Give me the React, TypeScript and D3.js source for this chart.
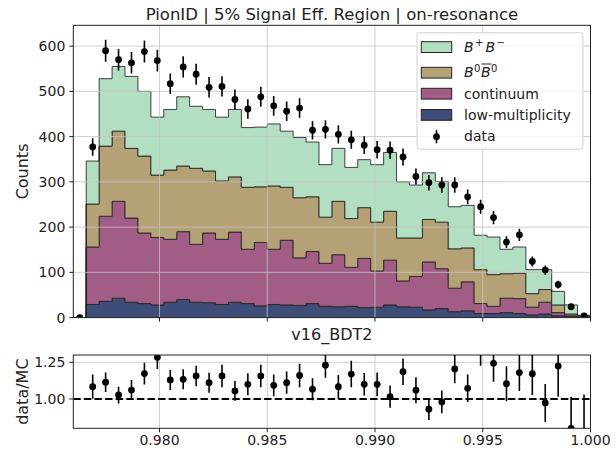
import React from "react";
import * as d3 from "d3";

// ---------------- data ----------------
const BIN_LO = 0.976;
const BIN_HI = 1.0;
const N_BINS = 40;

const lowMultiplicity = [0, 29, 36, 43, 34, 31, 28, 34, 40, 34, 33, 29, 34, 31, 26, 29, 28, 27, 31, 25, 24, 25, 22, 23, 28, 24, 23, 17, 20, 13, 15, 9, 9, 11, 9, 6, 8, 4, 2, 0];
const continuum = [0, 127, 188, 214, 186, 156, 149, 139, 150, 128, 154, 144, 155, 120, 140, 122, 143, 105, 115, 95, 115, 86, 109, 80, 99, 57, 68, 106, 88, 52, 64, 22, 16, 32, 33, 17, 26, 7, 2, 0.5];
const b0b0bar = [0, 95, 155, 155, 154, 170, 138, 153, 145, 168, 137, 129, 122, 137, 123, 140, 117, 133, 121, 102, 118, 108, 112, 108, 108, 95, 85, 94, 103, 87, 75, 75, 70, 54, 56, 30, 28, 17, 4, 2.5];
const bplusbminus = [0, 95, 149, 143, 159, 143, 128, 134, 153, 137, 136, 141, 149, 132, 132, 137, 124, 133, 121, 116, 117, 113, 106, 127, 130, 124, 117, 103, 90, 93, 94, 76, 83, 54, 58, 53, 44, 30, 20, 2];
const dataCounts = [0, 377, 590, 570, 563, 588, 568, 517, 554, 538, 509, 511, 482, 461, 488, 468, 456, 463, 414, 416, 405, 393, 381, 371, 370, 355, 312, 298, 293, 293, 267, 245, 221, 167, 183, 124, 105, 73, 24, 4];

const ratioValues = [null, 1.084, 1.114, 1.027, 1.061, 1.173, 1.284, 1.13, 1.134, 1.157, 1.111, 1.157, 1.055, 1.1, 1.157, 1.093, 1.111, 1.16, 1.067, 1.23, 1.084, 1.17, 1.1, 1.1, 1.016, 1.186, 1.06, 0.93, 0.98, 1.205, 1.073, 1.346, 1.243, 1.104, 1.18, 1.172, 0.973, 1.225, 0.8, 0.6];
const ratioErrors = [0, 0.083, 0.066, 0.057, 0.068, 0.074, 0.08, 0.068, 0.068, 0.07, 0.068, 0.077, 0.067, 0.075, 0.077, 0.074, 0.076, 0.08, 0.075, 0.086, 0.08, 0.09, 0.077, 0.081, 0.076, 0.09, 0.089, 0.074, 0.078, 0.098, 0.094, 0.12, 0.125, 0.12, 0.125, 0.145, 0.13, 0.21, 0.216, 0.43];

const layerNames = ["low-multiplicity", "continuum", "B0B0bar", "B+B-"];
const layerColors = ["#3e4c78", "#a25d86", "#b4a276", "#b2dec1"];

const mainYTicks = [0, 100, 200, 300, 400, 500, 600];
const ratioYTicks = [1.0, 1.25];
const xTicks = [0.98, 0.985, 0.99, 0.995, 1.0];

const TITLE = "PionID | 5% Signal Eff. Region | on-resonance";

// ---------------- layout ----------------
const W = 615;
const H = 454;
const L = 73.3;
const R = 590.5;
const mainTop = 25.3;
const mainBot = 317.6;
const ratTop = 355;
const ratBot = 428.3;
const FONT = "DejaVu Sans, sans-serif";
const SPINE = "#222";

export default function App() {
  const x = d3.scaleLinear().domain([BIN_LO, BIN_HI]).range([L, R]);
  const y = d3.scaleLinear().domain([0, 646]).range([mainBot, mainTop]);
  const yr = d3.scaleLinear().domain([0.8, 1.3]).range([ratBot, ratTop]);

  const binW = (BIN_HI - BIN_LO) / N_BINS;
  const edges = d3.range(N_BINS + 1).map((i) => BIN_LO + i * binW);
  const centers = d3.range(N_BINS).map((i) => BIN_LO + (i + 0.5) * binW);

  const rows = d3.range(N_BINS).map((i) => ({
    [layerNames[0]]: lowMultiplicity[i],
    [layerNames[1]]: continuum[i],
    [layerNames[2]]: b0b0bar[i],
    [layerNames[3]]: bplusbminus[i],
  }));
  const stacked = d3.stack<any>().keys(layerNames)(rows as any);

  const area = d3
    .area<number>()
    .x((_, i) => x(edges[i]))
    .curve(d3.curveStepAfter);

  const layerPaths = stacked.map((s) => {
    const lo = edges.map((_, i) => s[Math.min(i, N_BINS - 1)][0]);
    const hi = edges.map((_, i) => s[Math.min(i, N_BINS - 1)][1]);
    return area.y0((_, i) => y(lo[i])).y1((_, i) => y(hi[i]))(edges as any) as string;
  });

  const fmtX = d3.format(".3f");
  const fmtR = d3.format(".2f");

  const gridColor = "#c4c4c4";

  return (
    <svg
      width={W}
      height={H}
      style={{ position: "absolute", left: 0, top: 0, background: "#fff" }}
      fontFamily={FONT}
    >
      <defs>
        <clipPath id="clipMain">
          <rect x={L} y={mainTop} width={R - L} height={mainBot - mainTop} />
        </clipPath>
        <clipPath id="clipRat">
          <rect x={L} y={ratTop} width={R - L} height={ratBot - ratTop} />
        </clipPath>
      </defs>
      <rect x={0} y={0} width={W} height={H} fill="#fff" />

      {/* ---------- main panel ---------- */}
      <g clipPath="url(#clipMain)">
        {layerPaths.map((d, i) => (
          <path key={i} d={d} fill={layerColors[i]} stroke="#222" strokeWidth={1} strokeOpacity={0.85} />
        ))}
        {mainYTicks.map((t) => (
          <line key={"gy" + t} x1={L} x2={R} y1={y(t)} y2={y(t)} stroke={gridColor} strokeWidth={1} opacity={0.8} />
        ))}
        {xTicks.map((t) => (
          <line key={"gx" + t} x1={x(t)} x2={x(t)} y1={mainTop} y2={mainBot} stroke={gridColor} strokeWidth={1} opacity={0.8} />
        ))}
        {dataCounts.map((v, i) => {
          const e = Math.sqrt(v);
          return (
            <g key={"d" + i}>
              <line x1={x(centers[i])} x2={x(centers[i])} y1={y(v - e)} y2={y(v + e)} stroke="#000" strokeWidth={1.6} />
              <circle cx={x(centers[i])} cy={y(v)} r={3.4} fill="#000" />
            </g>
          );
        })}
      </g>
      {/* spines */}
      <rect x={L} y={mainTop} width={R - L} height={mainBot - mainTop} fill="none" stroke={SPINE} strokeWidth={1} />
      {mainYTicks.map((t) => (
        <g key={"ty" + t}>
          <line x1={L - 4} x2={L} y1={y(t)} y2={y(t)} stroke={SPINE} strokeWidth={1} />
          <text x={L - 8} y={y(t)} dy="0.36em" textAnchor="end" fontSize={14} fill="#222">
            {t}
          </text>
        </g>
      ))}
      {xTicks.map((t) => (
        <line key={"tx" + t} x1={x(t)} x2={x(t)} y1={mainBot} y2={mainBot + 4} stroke={SPINE} strokeWidth={1} />
      ))}
      <text x={(L + R) / 2} y={20} textAnchor="middle" fontSize={16.5} fill="#222">
        {TITLE}
      </text>
      <text transform={`translate(28,${(mainTop + mainBot) / 2}) rotate(-90)`} textAnchor="middle" fontSize={16} fill="#222">
        Counts
      </text>
      <text x={(L + R) / 2} y={339.5} textAnchor="middle" fontSize={16} fill="#222">
        v16_BDT2
      </text>

      {/* legend */}
      <g>
        <rect x={417} y={32.7} width={166} height={116.5} rx={3} fill="#fff" fillOpacity={0.8} stroke="#d0d0d0" strokeWidth={1} />
        {[
          { i: 3, y0: 41.7 },
          { i: 2, y0: 67.3 },
          { i: 1, y0: 88.3 },
          { i: 0, y0: 109.5 },
        ].map(({ i, y0 }) => (
          <rect key={"lp" + i} x={421.3} y={y0} width={30.4} height={10.8} fill={layerColors[i]} stroke="#222" strokeWidth={1} />
        ))}
        <text x={464} y={51.7} fontSize={14} fill="#222">
          <tspan fontStyle="italic">B</tspan>
          <tspan dx={1.5} dy={-5.5} fontSize={10}>+</tspan>
          <tspan dx={2} dy={5.5} fontStyle="italic">B</tspan>
          <tspan dx={1.5} dy={-5.5} fontSize={10}>−</tspan>
        </text>
        <text x={464} y={77.3} fontSize={14} fill="#222">
          <tspan fontStyle="italic">B</tspan>
          <tspan dx={0.5} dy={-5.5} fontSize={10}>0</tspan>
          <tspan dx={0.5} dy={5.5} fontStyle="italic">B</tspan>
          <tspan dx={0.5} dy={-5.5} fontSize={10}>0</tspan>
        </text>
        <line x1={481.5} x2={491.5} y1={64} y2={64} stroke="#222" strokeWidth={1} />
        <text x={464} y={99} fontSize={14} fill="#222">continuum</text>
        <text x={464} y={120.3} fontSize={14} fill="#222">low-multiplicity</text>
        <text x={464} y={141} fontSize={14} fill="#222">data</text>
        <line x1={436.5} x2={436.5} y1={130} y2={143.3} stroke="#000" strokeWidth={1.6} />
        <circle cx={436.5} cy={136.7} r={3.4} fill="#000" />
      </g>

      {/* ---------- ratio panel ---------- */}
      <g clipPath="url(#clipRat)">
        {ratioYTicks.map((t) => (
          <line key={"rgy" + t} x1={L} x2={R} y1={yr(t)} y2={yr(t)} stroke={gridColor} strokeWidth={1} opacity={0.8} />
        ))}
        {xTicks.map((t) => (
          <line key={"rgx" + t} x1={x(t)} x2={x(t)} y1={ratTop} y2={ratBot} stroke={gridColor} strokeWidth={1} opacity={0.8} />
        ))}
        <line x1={L} x2={R} y1={yr(1)} y2={yr(1)} stroke="#000" strokeWidth={2} strokeDasharray="7.4,3.2" />
        {ratioValues.map((v, i) =>
          v == null ? null : (
            <g key={"r" + i}>
              <line
                x1={x(centers[i])}
                x2={x(centers[i])}
                y1={yr(v - ratioErrors[i])}
                y2={yr(v + ratioErrors[i])}
                stroke="#000"
                strokeWidth={1.6}
              />
              <circle cx={x(centers[i])} cy={yr(v)} r={3.4} fill="#000" />
            </g>
          )
        )}
      </g>
      <rect x={L} y={ratTop} width={R - L} height={ratBot - ratTop} fill="none" stroke={SPINE} strokeWidth={1} />
      {ratioYTicks.map((t) => (
        <g key={"rty" + t}>
          <line x1={L - 4} x2={L} y1={yr(t)} y2={yr(t)} stroke={SPINE} strokeWidth={1} />
          <text x={L - 8} y={yr(t)} dy="0.36em" textAnchor="end" fontSize={14} fill="#222">
            {fmtR(t)}
          </text>
        </g>
      ))}
      {xTicks.map((t) => (
        <g key={"rtx" + t}>
          <line x1={x(t)} x2={x(t)} y1={ratBot} y2={ratBot + 4} stroke={SPINE} strokeWidth={1} />
          <text x={x(t)} y={445} textAnchor="middle" fontSize={14} fill="#222">
            {fmtX(t)}
          </text>
        </g>
      ))}
      <text transform={`translate(28,${(ratTop + ratBot) / 2}) rotate(-90)`} textAnchor="middle" fontSize={16} fill="#222">
        data/MC
      </text>
    </svg>
  );
}
